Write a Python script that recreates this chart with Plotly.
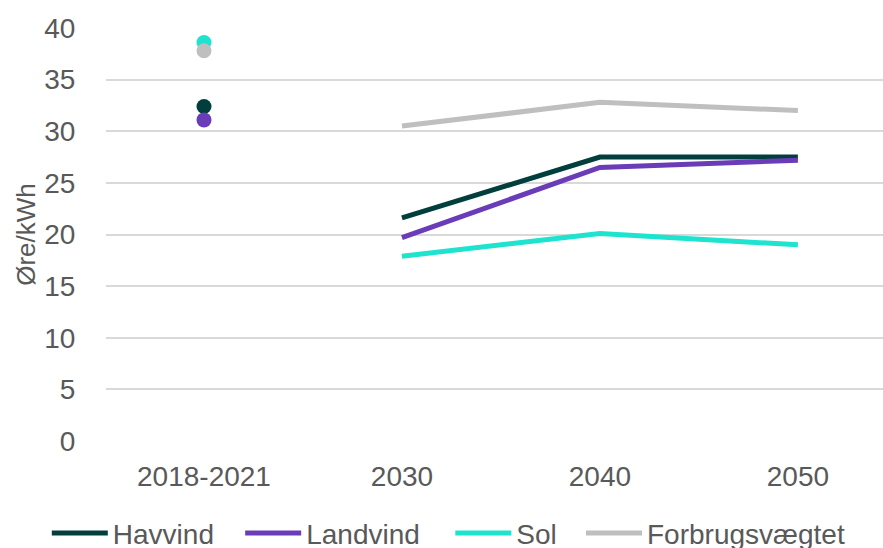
import plotly.graph_objects as go

categories = ["2018-2021", "2030", "2040", "2050"]
series_names = ["Havvind", "Landvind", "Sol", "Forbrugsvægtet"]
havvind = [32.4, 21.6, 27.5, 27.5]
landvind = [31.1, 19.7, 26.5, 27.2]
sol = [38.6, 17.9, 20.1, 19.0]
forbrug = [37.8, 30.5, 32.8, 32.0]
colors = ["#003F3C", "#6A3CB8", "#1EE3CF", "#BFBFBF"]
legend_ids = ["legend", "legend2", "legend3", "legend4"]
legend_x = [0.053, 0.272, 0.510, 0.658]  # container fraction, left edge of each legend entry

TEXT = "#595959"
FONT = "Liberation Sans, Arial, sans-serif"

fig = go.Figure()
for name, vals, col, lg in zip(series_names, [havvind, landvind, sol, forbrug], colors, legend_ids):
    fig.add_trace(go.Scatter(
        x=categories[:1], y=vals[:1], mode="markers", name=name,
        marker=dict(color=col, size=15), showlegend=False, legendgroup=name,
        legend=lg, hoverinfo="x+y+name"))
    fig.add_trace(go.Scatter(
        x=categories[1:], y=vals[1:], mode="lines", name=name,
        line=dict(color=col, width=5), legendgroup=name, legend=lg))

legend_common = dict(orientation="h", xref="container", yref="container",
                     xanchor="left", y=0.027, yanchor="middle",
                     font=dict(size=28, color=TEXT), itemwidth=56,
                     bgcolor="rgba(0,0,0,0)", borderwidth=0)
layout_legends = {}
for lg, lx in zip(legend_ids, legend_x):
    layout_legends[lg] = dict(legend_common, x=lx)

fig.update_layout(
    width=883, height=548,
    margin=dict(l=106, r=0, t=28, b=107),
    paper_bgcolor="white", plot_bgcolor="white",
    font=dict(family=FONT, size=28, color=TEXT),
    showlegend=True,
    **layout_legends,
)
fig.update_xaxes(type="category", categoryorder="array", categoryarray=categories,
                 range=[-0.495, 3.43], showgrid=False, zeroline=False, showline=False,
                 ticks="outside", ticklen=10, tickcolor="rgba(0,0,0,0)",
                 tickfont=dict(size=28, color=TEXT))
fig.update_yaxes(range=[0, 40], dtick=5, tick0=0, showgrid=True, gridcolor="#D9D9D9",
                 gridwidth=1.5, zeroline=False, showline=False,
                 ticks="outside", ticklen=24, tickcolor="rgba(0,0,0,0)",
                 tickfont=dict(size=28, color=TEXT),
                 title=dict(text="Øre/kWh", font=dict(size=26, color=TEXT), standoff=1))

fig.write_html("out.html")
